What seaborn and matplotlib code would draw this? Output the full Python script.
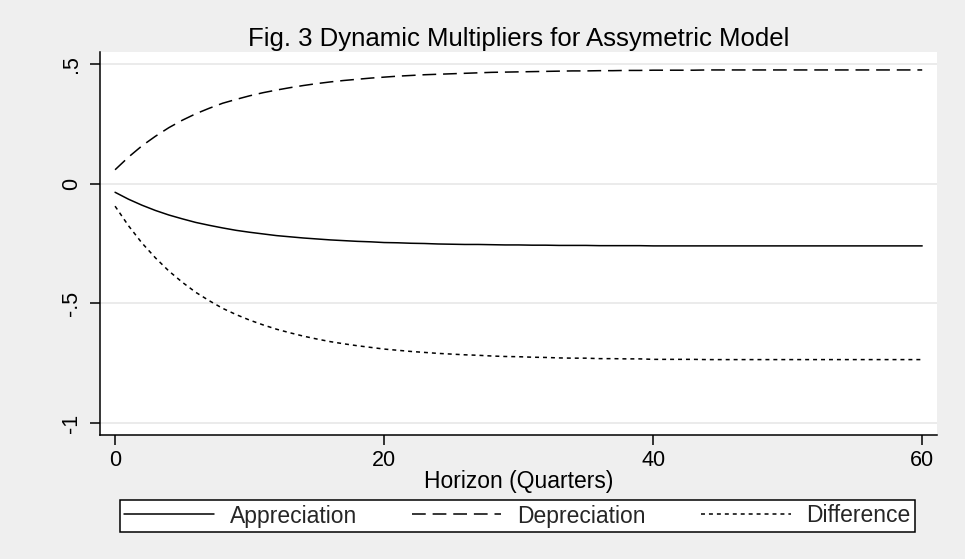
import matplotlib
matplotlib.use("Agg")
import matplotlib.pyplot as plt
import seaborn as sns
import pandas as pd
import numpy as np

# ---- data ----
horizon = list(range(0, 61))

appreciation = [
    -0.036, -0.065, -0.090, -0.112, -0.131, -0.147, -0.162, -0.174, -0.185, -0.195,
    -0.203, -0.210, -0.217, -0.222, -0.227, -0.231, -0.235, -0.238, -0.241, -0.243,
    -0.246, -0.247, -0.249, -0.250, -0.252, -0.253, -0.254, -0.254, -0.255, -0.256,
    -0.256, -0.257, -0.257, -0.258, -0.258, -0.258, -0.259, -0.259, -0.259, -0.259,
    -0.260, -0.260, -0.260, -0.260, -0.260, -0.260, -0.260, -0.260, -0.260, -0.260,
    -0.260, -0.260, -0.260, -0.260, -0.260, -0.260, -0.260, -0.260, -0.260, -0.260,
    -0.260,
]

depreciation = [
    0.058, 0.111, 0.158, 0.198, 0.234, 0.265, 0.292, 0.315, 0.336, 0.352,
    0.367, 0.380, 0.391, 0.401, 0.410, 0.418, 0.425, 0.431, 0.436, 0.441,
    0.445, 0.449, 0.452, 0.455, 0.457, 0.459, 0.461, 0.463, 0.465, 0.466,
    0.467, 0.468, 0.469, 0.470, 0.471, 0.471, 0.472, 0.472, 0.473, 0.473,
    0.474, 0.474, 0.474, 0.474, 0.475, 0.475, 0.475, 0.475, 0.475, 0.475,
    0.475, 0.475, 0.475, 0.475, 0.475, 0.475, 0.475, 0.475, 0.475, 0.475,
    0.475,
]

difference = [
    -0.094, -0.176, -0.248, -0.310, -0.365, -0.412, -0.454, -0.489, -0.521, -0.547,
    -0.570, -0.590, -0.608, -0.623, -0.637, -0.649, -0.660, -0.669, -0.677, -0.684,
    -0.691, -0.696, -0.701, -0.705, -0.709, -0.712, -0.715, -0.717, -0.720, -0.722,
    -0.723, -0.725, -0.726, -0.728, -0.729, -0.729, -0.731, -0.731, -0.732, -0.732,
    -0.734, -0.734, -0.734, -0.734, -0.735, -0.735, -0.735, -0.735, -0.735, -0.735,
    -0.735, -0.735, -0.735, -0.735, -0.735, -0.735, -0.735, -0.735, -0.735, -0.735,
    -0.735,
]

series_names = ["Appreciation", "Depreciation", "Difference"]
ytick_values = [-1, -0.5, 0, 0.5]
ytick_labels = ["-1", "-.5", "0", ".5"]
xtick_values = [0, 20, 40, 60]

title_text = "Fig. 3 Dynamic Multipliers for Assymetric Model"
xlabel_text = "Horizon (Quarters)"

# ---- long table for seaborn ----
df = pd.DataFrame({
    "Horizon": horizon * 3,
    "value": appreciation + depreciation + difference,
    "series": [series_names[0]] * len(horizon)
              + [series_names[1]] * len(horizon)
              + [series_names[2]] * len(horizon),
})

sns.set_theme(style="white")
plt.rcParams["font.family"] = ["Liberation Sans", "DejaVu Sans"]

BG = "#efefef"
FS_TICK = 15.5
FS_TEXT = 16.5
FS_TITLE = 18.5
LW = 1.1

fig = plt.figure(figsize=(9.65, 5.59), dpi=100, facecolor=BG)
ax = fig.add_axes([100 / 965, 1 - 435 / 559, 837 / 965, 383 / 559])
ax.set_facecolor("white")

styles = {
    "Appreciation": "-",
    "Depreciation": (0, (9, 4.5)),
    "Difference": (0, (2.6, 2.6)),
}

for name in series_names:
    sub = df[df["series"] == name]
    sns.lineplot(data=sub, x="Horizon", y="value", ax=ax, color="black",
                 linewidth=LW, label=name, legend=False, zorder=3)
    ax.lines[-1].set_linestyle(styles[name])

ax.set_xlim(-1.12, 61.1)
ax.set_ylim(-1.05, 0.55)

ax.set_yticks(ytick_values)
ax.set_yticklabels(ytick_labels, rotation=90, va="center", fontsize=FS_TICK)
ax.set_xticks(xtick_values)
ax.set_xticklabels([str(v) for v in xtick_values], fontsize=FS_TICK)

ax.yaxis.grid(True, color="#e8e8e8", linewidth=1.2, zorder=0)
ax.xaxis.grid(False)

for side in ["top", "right"]:
    ax.spines[side].set_visible(False)
for side in ["left", "bottom"]:
    ax.spines[side].set_color("black")
    ax.spines[side].set_linewidth(1.1)

ax.tick_params(axis="both", which="both", direction="out", length=7,
               width=1.1, color="black", labelcolor="black",
               left=True, bottom=True)
ax.tick_params(axis="y", pad=6)
ax.tick_params(axis="x", pad=4)

ax.set_xlabel(xlabel_text, fontsize=FS_TEXT, color="black", labelpad=-1)
ax.set_ylabel("")
ax.set_title(title_text, fontsize=FS_TITLE, color="black", pad=4)

handles = ax.get_lines()[:3]
leg = fig.legend(handles, series_names, ncol=3, loc="center",
                 bbox_to_anchor=(120 / 965, 1 - 534 / 559, 795 / 965, 36 / 559),
                 mode="expand", borderaxespad=0, fontsize=FS_TEXT,
                 frameon=True, fancybox=False, handlelength=3.9,
                 handletextpad=0.7, borderpad=0.18)
leg.get_frame().set_edgecolor("black")
leg.get_frame().set_linewidth(1.1)
leg.get_frame().set_facecolor("white")
leg.get_frame().set_alpha(1)

fig.savefig("out.png", dpi=100, facecolor=BG)
